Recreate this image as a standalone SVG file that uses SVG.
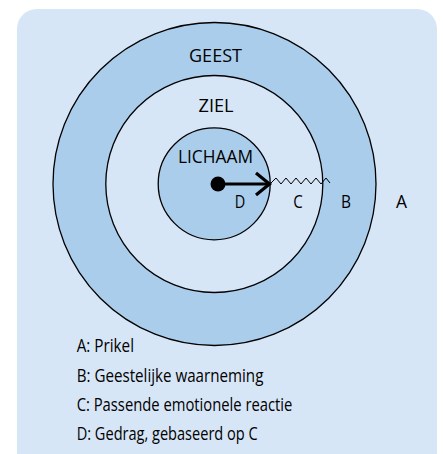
<svg xmlns="http://www.w3.org/2000/svg" width="443" height="454" viewBox="0 0 443 454">
<style>
.lbl{font-family:"Open Sans","Noto Sans",sans-serif;font-size:19px;fill:#000;text-anchor:middle}
.leg{font-family:"Open Sans","Noto Sans",sans-serif;font-size:17.5px;fill:#000}
.ring{stroke:#000;stroke-width:1.3}
</style>
<rect x="17" y="9" width="420" height="470" rx="20" fill="#d7e6f6"/>
<g id="geest">
<circle class="ring" cx="214.5" cy="184" r="161.5" fill="#abcdec"/>
<text class="lbl" x="215.5" y="62" textLength="53" lengthAdjust="spacingAndGlyphs">GEEST</text>
</g>
<g id="ziel">
<circle class="ring" cx="214.3" cy="184" r="108.5" fill="#d7e6f6"/>
<text class="lbl" x="216" y="111.7" textLength="35" lengthAdjust="spacingAndGlyphs">ZIEL</text>
</g>
<g id="lichaam">
<circle class="ring" cx="214.2" cy="183.8" r="56" fill="#abcdec"/>
<text class="lbl" x="215.5" y="163.3" textLength="75" lengthAdjust="spacingAndGlyphs">LICHAAM</text>
</g>
<g id="connectors">
<circle cx="218" cy="184" r="7.5" fill="#000"/>
<line x1="218" y1="184" x2="268" y2="184" stroke="#000" stroke-width="3"/>
<polyline points="256,173 269.5,184 256,195" fill="none" stroke="#000" stroke-width="3.2"/>
<polyline points="270,184 276,178 281,184 286,178 291,184 296,178 301,184 306,178 311,184 316,178 321,184 326,178 330,183" fill="none" stroke="#000" stroke-width="1"/>
</g>
<g id="letters">
<text class="lbl" x="240" y="207.7" textLength="10.5" lengthAdjust="spacingAndGlyphs">D</text>
<text class="lbl" x="298" y="207.7" textLength="9.5" lengthAdjust="spacingAndGlyphs">C</text>
<text class="lbl" x="346" y="207.7" textLength="10" lengthAdjust="spacingAndGlyphs">B</text>
<text class="lbl" x="401.5" y="207.7" textLength="11" lengthAdjust="spacingAndGlyphs">A</text>
</g>
<g id="legend">
<text class="leg" x="76.7" y="351.7" textLength="57.3" lengthAdjust="spacingAndGlyphs">A: Prikel</text>
<text class="leg" x="76.7" y="381.5" textLength="186.7" lengthAdjust="spacingAndGlyphs">B: Geestelijke waarneming</text>
<text class="leg" x="76.7" y="410.7" textLength="215.7" lengthAdjust="spacingAndGlyphs">C: Passende emotionele reactie</text>
<text class="leg" x="76.7" y="440" textLength="181" lengthAdjust="spacingAndGlyphs">D: Gedrag, gebaseerd op C</text>
</g>
</svg>
